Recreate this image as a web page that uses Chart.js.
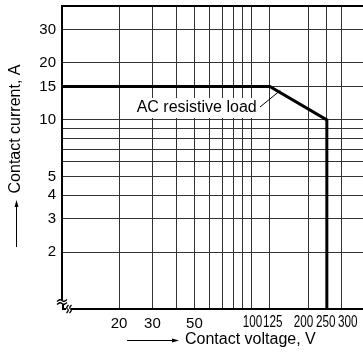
<!DOCTYPE html>
<html><head><meta charset="utf-8">
<script src="https://cdn.jsdelivr.net/npm/chart.js@4/dist/chart.umd.min.js"></script>
<style>html,body{margin:0;padding:0;background:#fff;}#wrap{width:363px;height:358px;position:relative;}</style>
</head><body><div id="wrap"><canvas id="c" width="363" height="358"></canvas></div>
<script>
// ---- data ----
const voltage = [10, 125, 250, 250];
const current = [15, 15, 10, 1];
const xGridValues = [20, 30, 40, 50, 60, 70, 80, 90, 100, 125, 200, 250, 300];
const xTickLabels = [20, 30, 50, 100, 125, 200, 250, 300];
const xNarrowLabels = [100, 125, 200, 250, 300];
const yGridValues = [2, 3, 4, 5, 6, 7, 8, 9, 10, 15, 20, 30];
const yTickLabels = [2, 3, 4, 5, 10, 15, 20, 30];
const xTitle = 'Contact voltage, V';
const yTitle = 'Contact current, A';
const annotationText = 'AC resistive load';

const FONT = '"Liberation Sans", Arial, Helvetica, sans-serif';
// small sideways nudges of the crowded labels, as in the original
const narrowNudge = {100: 1, 125: 3, 200: -5, 250: -1, 300: 6};

const decor = {
  id: 'decor',
  afterDatasetsDraw(chart) {
    const {ctx, chartArea: a, scales: {x, y}} = chart;
    ctx.save();
    // top border
    ctx.strokeStyle = '#000'; ctx.lineWidth = 2;
    ctx.beginPath(); ctx.moveTo(a.left - 1, a.top); ctx.lineTo(a.right, a.top); ctx.stroke();

    // crowded x labels in a condensed style
    ctx.fillStyle = '#000';
    ctx.font = '16px ' + FONT;
    ctx.textAlign = 'center'; ctx.textBaseline = 'middle';
    for (const v of xNarrowLabels) {
      const px = x.getPixelForValue(v) + (narrowNudge[v] || 0);
      ctx.save();
      ctx.translate(px, a.bottom + 13.5);
      ctx.scale(0.73, 1);
      ctx.fillText(String(v), 0, 0);
      ctx.restore();
    }

    // annotation
    ctx.font = '16px ' + FONT;
    const tx = x.getPixelForValue(51.4), ty = y.getPixelForValue(11.6);
    const tw = ctx.measureText(annotationText).width;
    ctx.fillStyle = '#fff';
    ctx.fillRect(Math.round(tx - tw / 2 - 4), Math.round(ty - 10), Math.round(tw + 8), 20);
    ctx.fillStyle = '#000'; ctx.textAlign = 'center'; ctx.textBaseline = 'middle';
    ctx.fillText(annotationText, tx, ty);
    ctx.lineWidth = 1;
    ctx.beginPath();
    ctx.moveTo(x.getPixelForValue(111), y.getPixelForValue(11.7));
    ctx.lineTo(x.getPixelForValue(142), y.getPixelForValue(14.3));
    ctx.stroke();

    // axis titles with arrows
    ctx.font = '16px ' + FONT;
    ctx.textAlign = 'left'; ctx.textBaseline = 'middle';
    ctx.fillText(xTitle, 185, 340);
    ctx.beginPath(); ctx.moveTo(127, 340.5); ctx.lineTo(176, 340.5); ctx.stroke();
    ctx.beginPath(); ctx.moveTo(179, 340.5); ctx.lineTo(172, 338.5); ctx.lineTo(172, 342.5); ctx.closePath(); ctx.fill();

    ctx.save();
    ctx.translate(16, 129); ctx.rotate(-Math.PI / 2);
    ctx.textAlign = 'center';
    ctx.fillText(yTitle, 0, 0);
    ctx.restore();
    ctx.beginPath(); ctx.moveTo(16.5, 247); ctx.lineTo(16.5, 203); ctx.stroke();
    ctx.beginPath(); ctx.moveTo(16.5, 200); ctx.lineTo(14.5, 207); ctx.lineTo(18.5, 207); ctx.closePath(); ctx.fill();

    // axis break marks
    const L = a.left, B = a.bottom;
    ctx.fillStyle = '#fff';
    ctx.fillRect(L - 6, B - 10, 16, 13);
    ctx.strokeStyle = '#000'; ctx.lineWidth = 2;
    ctx.beginPath(); ctx.moveTo(L, B - 10); ctx.lineTo(L, B - 9); ctx.stroke();
    ctx.lineWidth = 1.3;
    for (const dy of [-8.5, -5.5]) {
      ctx.beginPath();
      ctx.moveTo(L - 5, B + dy + 1);
      ctx.quadraticCurveTo(L - 2, B + dy - 2, L, B + dy);
      ctx.quadraticCurveTo(L + 2, B + dy + 2, L + 5, B + dy - 1);
      ctx.stroke();
    }
    ctx.lineWidth = 2;
    ctx.beginPath(); ctx.moveTo(L + 1, B - 5); ctx.lineTo(L + 1, B); ctx.lineTo(L + 4, B); ctx.stroke();
    ctx.lineWidth = 1.3;
    for (const dx of [5.5, 8.5]) {
      ctx.beginPath();
      ctx.moveTo(L + dx + 1, B - 4);
      ctx.quadraticCurveTo(L + dx - 2, B - 1, L + dx, B);
      ctx.quadraticCurveTo(L + dx + 2, B + 1, L + dx - 1, B + 4);
      ctx.stroke();
    }
    ctx.lineWidth = 2;
    ctx.beginPath(); ctx.moveTo(L + 9, B); ctx.lineTo(L + 11, B); ctx.stroke();
    ctx.restore();
  }
};

new Chart(document.getElementById('c'), {
  type: 'line',
  data: {
    datasets: [{
      data: voltage.map((v, i) => ({x: v, y: current[i]})),
      borderColor: '#000', borderWidth: 3, pointRadius: 0, fill: false, tension: 0,
      borderJoinStyle: 'miter', borderCapStyle: 'butt'
    }]
  },
  options: {
    responsive: false, animation: false, devicePixelRatio: 1,
    layout: {padding: {top: 6, left: 0, right: 0, bottom: 0}},
    plugins: {legend: {display: false}, tooltip: {enabled: false}},
    scales: {
      x: {
        type: 'logarithmic', min: 10, max: 388,
        afterBuildTicks: s => { s.ticks = xGridValues.map(v => ({value: v})); },
        afterFit: s => { s.height = 49; s.paddingLeft = 0; s.paddingRight = 0; },
        grid: {color: '#333', lineWidth: 1, drawTicks: false, tickLength: 0},
        border: {display: true, color: '#000', width: 2},
        ticks: {
          autoSkip: false, maxRotation: 0, minRotation: 0, padding: 6, color: '#000',
          callback: v => (xTickLabels.includes(v) && !xNarrowLabels.includes(v)) ? String(v) : '',
          font: {family: FONT, size: 15}
        }
      },
      y: {
        type: 'logarithmic', min: 1, max: 40,
        afterBuildTicks: s => { s.ticks = yGridValues.map(v => ({value: v})); },
        afterFit: s => { s.width = 62; s.paddingTop = 0; s.paddingBottom = 0; },
        grid: {color: '#333', lineWidth: 1, drawTicks: false, tickLength: 0},
        border: {display: true, color: '#000', width: 2},
        ticks: {
          autoSkip: false, padding: 6, color: '#000',
          callback: v => yTickLabels.includes(v) ? String(v) : '',
          font: {family: FONT, size: 15}
        }
      }
    }
  },
  plugins: [decor]
});
</script>
</body></html>
